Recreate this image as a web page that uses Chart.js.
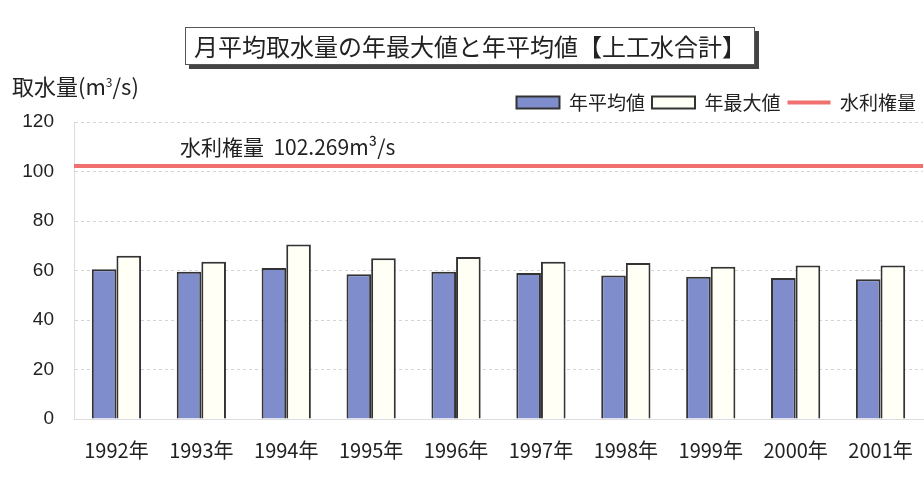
<!DOCTYPE html>
<html lang="ja">
<head>
<meta charset="utf-8">
<script src="https://cdn.jsdelivr.net/npm/chart.js@4.4.1/dist/chart.umd.min.js"></script>
<style>
    html, body { margin: 0; padding: 0; background: #fff; }
    #wrap { position: relative; width: 924px; height: 480px; }
    #chart { position: absolute; left: 0; top: 0; }
    .title {
        position: absolute; left: 185px; top: 27px; width: 568px; height: 36px;
        border: 1px solid #555; background: #fff;
        box-shadow: 4px 4px 0 #444;
        font: 24px "Noto Sans CJK JP", sans-serif; color: #222;
        text-align: center; line-height: 36px; white-space: nowrap;
    }
    .unit {
        position: absolute; left: 12px; top: 69px;
        font: 22px "Noto Sans CJK JP", sans-serif; color: #222;
        white-space: nowrap;
    }
    .unit sup { font-size: 12px; }
</style>
</head>
<body>
<div id="wrap">
    <canvas id="chart" width="924" height="480"></canvas>
    <div class="title">月平均取水量の年最大値と年平均値【上工水合計】</div>
    <div class="unit">取水量(m<sup>3</sup>/s)</div>
</div>
<script>
// 年別の取水量 (m3/s)
const years = ['1992年', '1993年', '1994年', '1995年', '1996年', '1997年', '1998年', '1999年', '2000年', '2001年'];
const annualMean = [60.5, 59.5, 61, 58.5, 59.5, 59, 58, 57.5, 57, 56.5];
const annualMax = [66, 63.5, 70.5, 65, 65.5, 63.5, 63, 61.5, 62, 62];
const waterRight = 102.269;
const yTicks = [0, 20, 40, 60, 80, 100, 120];

const jpFont = '"Noto Sans CJK JP", sans-serif';
const lineColor = '#f07070';

// 水利権量の横線とラベル (プロット幅いっぱいに引く)
const waterRightLine = {
    id: 'waterRightLine',
    afterDatasetsDraw(chart) {
        const { ctx, scales, chartArea } = chart;
        const y = scales.y.getPixelForValue(waterRight);
        ctx.save();
        ctx.strokeStyle = lineColor;
        ctx.lineWidth = 4;
        ctx.beginPath();
        ctx.moveTo(chartArea.left, y);
        ctx.lineTo(chartArea.right, y);
        ctx.stroke();

        ctx.fillStyle = '#222';
        ctx.font = '21px ' + jpFont;
        ctx.textBaseline = 'alphabetic';
        ctx.fillText('水利権量  ' + waterRight + 'm³/s', 180, y - 11);
        ctx.restore();
    }
};

new Chart(document.getElementById('chart'), {
    type: 'bar',
    data: {
        labels: years,
        datasets: [
            {
                label: '年平均値',
                data: annualMean,
                backgroundColor: '#7f8dcd',
                borderColor: '#333',
                borderWidth: 2,
                pointStyle: 'rect'
            },
            {
                label: '年最大値',
                data: annualMax,
                backgroundColor: '#fffff6',
                borderColor: '#333',
                borderWidth: 2,
                pointStyle: 'rect'
            },
            {
                // 凡例用 (線はプラグインで描画)
                type: 'line',
                label: '水利権量',
                data: [],
                borderColor: lineColor,
                backgroundColor: lineColor,
                borderWidth: 4,
                pointRadius: 0,
                pointStyle: 'line'
            }
        ]
    },
    options: {
        responsive: false,
        animation: false,
        categoryPercentage: 0.58,
        barPercentage: 1,
        layout: { padding: { top: 86, left: 0, right: 1, bottom: 7 } },
        plugins: {
            legend: {
                position: 'top',
                align: 'end',
                labels: {
                    usePointStyle: true,
                    pointStyleWidth: 43,
                    boxHeight: 12,
                    padding: 7,
                    color: '#222',
                    font: { size: 19, family: jpFont }
                }
            },
            tooltip: { enabled: false }
        },
        scales: {
            x: {
                grid: { display: false },
                border: { color: '#ddd' },
                ticks: {
                    padding: 11,
                    color: '#222',
                    maxRotation: 0,
                    font: { size: 20, family: '"Liberation Sans Narrow", ' + jpFont }
                }
            },
            y: {
                min: 0,
                max: 120,
                afterFit(scale) { scale.width = 74; },
                afterBuildTicks(scale) { scale.ticks = yTicks.map(v => ({ value: v })); },
                grid: {
                    color: '#d4d4d4',
                    drawTicks: false
                },
                border: { color: '#ddd', dash: [3, 3] },
                ticks: {
                    padding: 20,
                    color: '#222',
                    font: { size: 19, family: 'Liberation Sans, sans-serif' }
                }
            }
        }
    },
    plugins: [waterRightLine]
});
</script>
</body>
</html>
